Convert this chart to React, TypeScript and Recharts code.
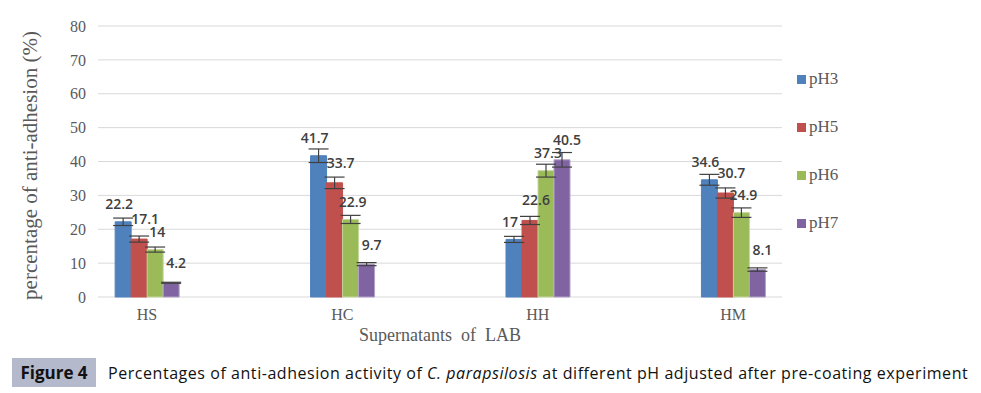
import React from "react";
import { BarChart, Bar, XAxis, YAxis, CartesianGrid, LabelList, ErrorBar, Label } from "recharts";

const categories = ["HS", "HC", "HH", "HM"];
const seriesNames = ["pH3", "pH5", "pH6", "pH7"];
const pH3 = [22.2, 41.7, 17, 34.6];
const pH5 = [17.1, 33.7, 22.6, 30.7];
const pH6 = [14, 22.9, 37.3, 24.9];
const pH7 = [4.2, 9.7, 40.5, 8.1];
const pH3Err = [1.1, 2.0, 0.9, 1.6];
const pH5Err = [0.9, 1.7, 1.2, 1.5];
const pH6Err = [0.75, 1.2, 1.9, 1.4];
const pH7Err = [0.15, 0.45, 2.15, 0.5];
const yTicks = [0, 10, 20, 30, 40, 50, 60, 70, 80];

const colors = ["#4f81bd", "#c0504d", "#9bbb59", "#8064a2"];
const borders = ["#4f81bd", "#c0504d", "#c3d69b", "#b3a2c7"];
// per-series nudge of the value labels (Excel had them hand placed)
const labelShift = [-4, 6, 2, 5];
const labelLift = [12.5, 15, 12.5, 14.5];

const values = [pH3, pH5, pH6, pH7];
const errors = [pH3Err, pH5Err, pH6Err, pH7Err];

// numeric x so the groups can sit closer to the plot edges, like in Excel
const data = categories.map((name, i) => {
  const row: Record<string, string | number> = { name, idx: i };
  seriesNames.forEach((s, k) => {
    row[s] = values[k][i];
    row[s + "Err"] = errors[k][i];
  });
  return row;
});
const xTicks = categories.map((_, i) => i);

const serif = "'Liberation Serif', 'DejaVu Serif', serif";
const sans = "'Open Sans', 'Noto Sans', sans-serif";

// legend kept outside the svg so it doesn't eat into the plot width
const LegendBox = () => (
  <div style={{ position: "absolute", left: 797, top: 55, display: "flex", flexDirection: "column" }}>
    {seriesNames.map((s, k) => (
      <div key={s} style={{ height: 48, display: "flex", alignItems: "center" }}>
        <span style={{ width: 9, height: 9, background: colors[k], marginRight: 3, display: "inline-block" }} />
        <span style={{ fontFamily: serif, fontSize: 17, color: "#595959" }}>{s}</span>
      </div>
    ))}
  </div>
);

export default function App() {
  return (
    <div style={{ position: "absolute", left: 0, top: 0, width: 981, height: 393, background: "#fff" }}>
      <BarChart
        width={981}
        height={350}
        data={data}
        margin={{ top: 26, right: 199, left: 0, bottom: 0 }}
        barSize={16}
        barGap={0}
      >
        <CartesianGrid vertical={false} stroke="#d9d9d9" />
        <XAxis
          dataKey="idx"
          type="number"
          domain={[-0.25, 3.25]}
          ticks={xTicks}
          tickFormatter={(v: number) => categories[v]}
          height={53}
          tickLine={false}
          axisLine={false}
          tickMargin={6}
          tick={{ fontFamily: serif, fontSize: 16, fill: "#595959" }}
        >
          <Label
            content={({ viewBox }: any) => (
              <text
                x={viewBox.x + viewBox.width / 2}
                y={viewBox.y + 44}
                textAnchor="middle"
                fontFamily={serif}
                fontSize={18}
                fill="#595959"
                style={{ whiteSpace: "pre" }}
              >
                {"Supernatants  of  LAB"}
              </text>
            )}
          />
        </XAxis>
        <YAxis
          width={98}
          domain={[0, 80]}
          ticks={yTicks}
          tickLine={false}
          axisLine={false}
          tickMargin={6}
          tick={{ fontFamily: serif, fontSize: 16, fill: "#595959" }}
        >
          <Label
            content={({ viewBox }: any) => (
              <text
                transform={`translate(${viewBox.x + 37}, ${viewBox.y + viewBox.height / 2 + 4}) rotate(-90)`}
                textAnchor="middle"
                fontFamily={serif}
                fontSize={21}
                fill="#595959"
              >
                percentage of anti-adhesion (%)
              </text>
            )}
          />
        </YAxis>
        {seriesNames.map((s, k) => (
          <Bar key={s} dataKey={s} fill={colors[k]} stroke={borders[k]} strokeWidth={1} isAnimationActive={false}>
            <ErrorBar dataKey={s + "Err"} width={10} stroke="#404040" strokeWidth={1.2} direction="y" />
            <LabelList
              dataKey={s}
              content={(p: any) => (
                <text
                  x={p.x + p.width / 2 + labelShift[k]}
                  y={p.y - labelLift[k]}
                  textAnchor="middle"
                  fontFamily={sans}
                  fontSize={14}
                  fontWeight={600}
                  fill="#404040"
                >
                  {p.value}
                </text>
              )}
            />
          </Bar>
        ))}
      </BarChart>
      <LegendBox />
      <div
        style={{
          position: "absolute",
          left: 12,
          top: 358,
          width: 84,
          height: 29,
          background: "#b4b9cc",
          display: "flex",
          alignItems: "center",
          justifyContent: "center",
          fontFamily: sans,
          fontWeight: 700,
          fontSize: 17,
          color: "#111",
        }}
      >
        Figure 4
      </div>
      <div
        style={{
          position: "absolute",
          left: 108,
          top: 358,
          height: 29,
          display: "flex",
          alignItems: "center",
          fontFamily: sans,
          fontSize: 16,
          letterSpacing: 0.55,
          color: "#111",
          whiteSpace: "nowrap",
        }}
      >
        <span>
          Percentages of anti-adhesion activity of <i>C. parapsilosis</i> at different pH adjusted after pre-coating
          experiment
        </span>
      </div>
    </div>
  );
}
